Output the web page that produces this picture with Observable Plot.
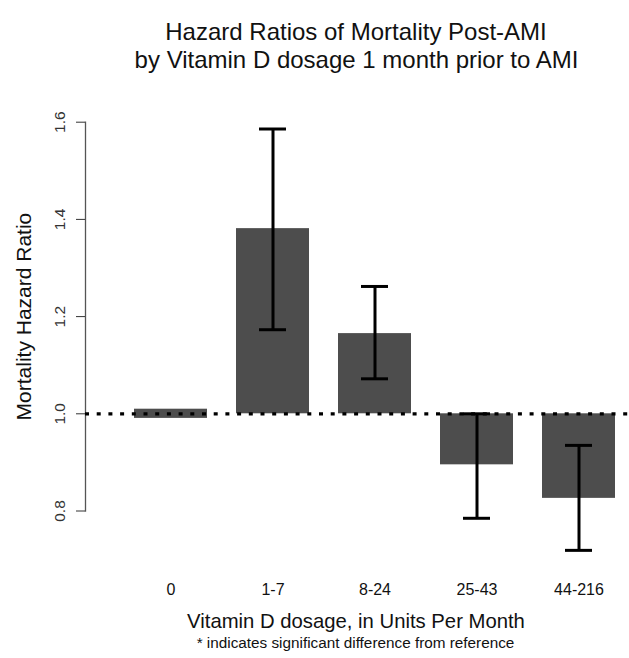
<!DOCTYPE html>
<html>
<head>
<meta charset="utf-8">
<script src="https://cdn.jsdelivr.net/npm/d3@7"></script>
<script src="https://cdn.jsdelivr.net/npm/@observablehq/plot@0.6"></script>
<style>
  html, body { margin: 0; padding: 0; background: #fff; }
  #chart { width: 629px; height: 658px; }
</style>
</head>
<body>
<div id="chart"></div>
<script>
// ---- data ----
const categories = ["0", "1-7", "8-24", "25-43", "44-216"];
const hazardRatio = [1.00, 1.381, 1.165, 0.895, 0.826];
const ciLower = [null, 1.173, 1.072, 0.785, 0.719];
const ciUpper = [null, 1.586, 1.262, 1.000, 0.935];
const yTicks = [0.8, 1.0, 1.2, 1.4, 1.6];
const referenceHR = 1.0;

const titleLine1 = "Hazard Ratios of Mortality Post-AMI";
const titleLine2 = "by Vitamin D dosage 1 month prior to AMI";
const xLabel = "Vitamin D dosage, in Units Per Month";
const yLabel = "Mortality Hazard Ratio";
const captionText = "* indicates significant difference from reference";

const rows = categories.map((c, i) => ({cat: c, hr: hazardRatio[i], lo: ciLower[i], hi: ciUpper[i]}));

const FONT = "'Liberation Sans', Arial, Helvetica, sans-serif";
const W = 629, ML = 85, MR = 0, MT = 121.7, MB = 147.5, H = 658;
const frameBottom = H - MB;
const frameCenterX = (ML + W - MR) / 2;

const chart = Plot.plot({
  width: W,
  height: H,
  marginLeft: ML,
  marginRight: MR,
  marginTop: MT,
  marginBottom: MB,
  style: {fontFamily: FONT, background: "#ffffff", color: "#000"},
  x: {domain: categories, range: [133, 616], paddingInner: 0.28, paddingOuter: 0, align: 0.5},
  y: {domain: [0.8, 1.6]},
  marks: [
    // y axis line
    Plot.frame({anchor: "left", stroke: "#555", strokeWidth: 1.3}),
    Plot.axisY({ticks: yTicks, tickSize: 9, tickRotate: -90, tickFormat: ".1f", tickPadding: 12,
                fontSize: 15.5, label: null, color: "#333"}),
    Plot.axisX({tickSize: 0, tickPadding: 73, fontSize: 16, label: null, color: "#111"}),
    // bars (from reference 1.0)
    Plot.barY(rows, {filter: d => d.hr !== referenceHR, x: "cat", y1: () => referenceHR, y2: "hr", fill: "#4d4d4d"}),
    Plot.barY(rows, {filter: d => d.hr === referenceHR, x: "cat", y1: () => referenceHR, y2: "hr",
                     fill: "#4d4d4d", insetTop: -4.6, insetBottom: -4.6}),
    // dotted reference line
    Plot.ruleY([referenceHR], {stroke: "#000", strokeWidth: 3.2, strokeDasharray: "4,7.7"}),
    // error bars
    Plot.ruleX(rows, {filter: d => d.lo != null, x: "cat", y1: "lo", y2: "hi", stroke: "#000", strokeWidth: 3}),
    Plot.tickY(rows, {filter: d => d.lo != null, x: "cat", y: "hi", stroke: "#000", strokeWidth: 3, insetLeft: 23, insetRight: 23}),
    Plot.tickY(rows, {filter: d => d.lo != null, x: "cat", y: "lo", stroke: "#000", strokeWidth: 3, insetLeft: 23, insetRight: 23}),
    // titles and labels
    Plot.text([titleLine1], {text: d => d, frameAnchor: "top", dx: 355.5 - frameCenterX, dy: 22.3 - MT, fontSize: 24, textAnchor: "middle", fill: "#111"}),
    Plot.text([titleLine2], {text: d => d, frameAnchor: "top", dx: 356 - frameCenterX, dy: 50.3 - MT, fontSize: 24, textAnchor: "middle", fill: "#111"}),
    Plot.text([yLabel], {text: d => d, frameAnchor: "left", dx: 24 - ML, dy: 0, rotate: -90, fontSize: 21, textAnchor: "middle", fill: "#111"}),
    Plot.text([xLabel], {text: d => d, frameAnchor: "bottom", dx: 355.5 - frameCenterX, dy: 627.1 - frameBottom, fontSize: 20.3, textAnchor: "middle", fill: "#111"}),
    Plot.text([captionText], {text: d => d, frameAnchor: "bottom", dx: 355 - frameCenterX, dy: 647.9 - frameBottom, fontSize: 15.3, textAnchor: "middle", fill: "#111"})
  ]
});
document.getElementById("chart").appendChild(chart);
</script>
</body>
</html>
